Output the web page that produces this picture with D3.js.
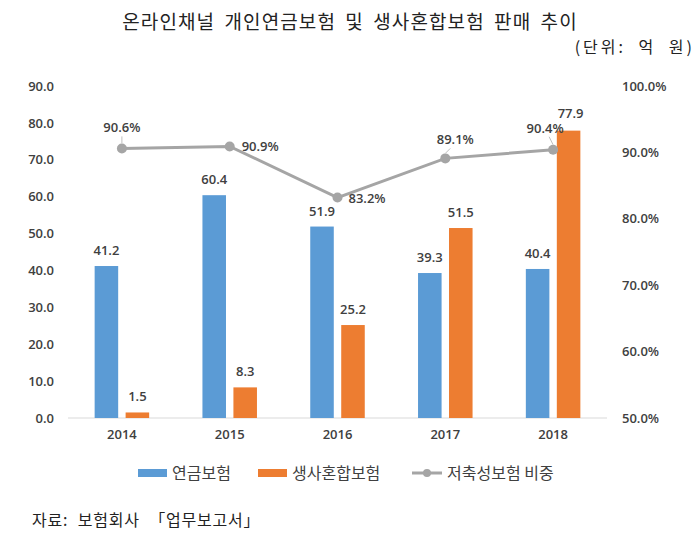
<!DOCTYPE html>
<html>
<head>
<meta charset="utf-8">
<script src="https://cdn.jsdelivr.net/npm/d3@7/dist/d3.min.js"></script>
<style>
  html, body { margin: 0; padding: 0; background: #fff; }
  svg { display: block; }
</style>
</head>
<body>
<svg id="chart" width="700" height="543"></svg>
<script>
// ---- data ----
const years = ["2014", "2015", "2016", "2017", "2018"];
const pension = [41.2, 60.4, 51.9, 39.3, 40.4];        // 연금보험
const mixed = [1.5, 8.3, 25.2, 51.5, 77.9];            // 생사혼합보험
const savingsShare = [90.6, 90.9, 83.2, 89.1, 90.4];   // 저축성보험 비중 (%)
const leftTicks = [0, 10, 20, 30, 40, 50, 60, 70, 80, 90];
const rightTicks = [50, 60, 70, 80, 90, 100];
const seriesNames = ["연금보험", "생사혼합보험", "저축성보험 비중"];
const titleText = "온라인채널 개인연금보험 및 생사혼합보험 판매 추이";
const unitText = "(단위: 억 원)";
const sourceText = "자료: 보험회사 「업무보고서」";

// ---- setup ----
const svg = d3.select("#chart");
const colors = { pension: "#5B9BD5", mixed: "#ED7D31", line: "#A5A5A5" };
const numFont = "'Open Sans', 'Noto Sans CJK KR', sans-serif";
const krFont = "'Noto Sans CJK KR', sans-serif";
const textColor = "#404040";

const plot = { left: 68, right: 607, top: 86, bottom: 418 };

const x0 = d3.scaleBand().domain(years).range([plot.left, plot.right]).padding(0);
const x1 = d3.scaleBand().domain(["pension", "mixed"]).range([0, x0.bandwidth()])
  .paddingInner(0.24).paddingOuter(0.86);
const yL = d3.scaleLinear().domain([0, 90]).range([plot.bottom, plot.top]);
const yR = d3.scaleLinear().domain([50, 100]).range([plot.bottom, plot.top]);

// title
svg.append("text").attr("x", 350).attr("y", 29).attr("text-anchor", "middle")
  .attr("font-family", krFont).attr("font-size", 19).attr("letter-spacing", 1.1)
  .attr("word-spacing", 4).attr("fill", "#222")
  .text(titleText);
svg.append("text").attr("x", 695).attr("y", 53).attr("text-anchor", "end")
  .attr("font-family", krFont).attr("font-size", 16).attr("letter-spacing", 3)
  .attr("word-spacing", 6).attr("fill", "#222")
  .text(unitText);

// left axis
const axL = d3.axisLeft(yL).tickValues(leftTicks).tickFormat(d3.format(".1f")).tickSize(0).tickPadding(14);
const gL = svg.append("g").attr("transform", `translate(${plot.left},0)`).call(axL);
gL.select(".domain").remove();
gL.selectAll("text").attr("font-family", numFont).attr("font-size", 13)
  .attr("font-weight", 600).attr("fill", textColor);

// right axis
const axR = d3.axisRight(yR).tickValues(rightTicks).tickFormat(d => d3.format(".1f")(d) + "%").tickSize(0).tickPadding(15);
const gR = svg.append("g").attr("transform", `translate(${plot.right},0)`).call(axR);
gR.select(".domain").remove();
gR.selectAll("text").attr("font-family", numFont).attr("font-size", 13)
  .attr("font-weight", 600).attr("fill", textColor);

// baseline
svg.append("line").attr("x1", plot.left).attr("x2", plot.right)
  .attr("y1", yL(0)).attr("y2", yL(0)).attr("stroke", "#D9D9D9").attr("stroke-width", 1);

// x axis labels
const axX = d3.axisBottom(x0).tickSize(0).tickPadding(12);
const gX = svg.append("g").attr("transform", `translate(0,${plot.bottom})`).call(axX);
gX.select(".domain").remove();
gX.selectAll("text").attr("font-family", numFont).attr("font-size", 13)
  .attr("font-weight", 600).attr("fill", textColor);

// bars
const rows = years.map((y, i) => ({ year: y, pension: pension[i], mixed: mixed[i] }));
const groups = svg.append("g").selectAll("g").data(rows).join("g")
  .attr("transform", d => `translate(${x0(d.year)},0)`);
["pension", "mixed"].forEach(key => {
  groups.append("rect")
    .attr("x", x1(key)).attr("width", x1.bandwidth())
    .attr("y", d => yL(d[key])).attr("height", d => yL(0) - yL(d[key]))
    .attr("fill", colors[key]);
  groups.append("text")
    .attr("x", d => x1(key) + x1.bandwidth() / 2 + (d.year === "2018" && key === "mixed" ? 2 : 0))
    .attr("y", d => yL(d[key]) - (d.year === "2018" && key === "mixed" ? 13 : 11))
    .attr("text-anchor", "middle")
    .attr("font-family", numFont).attr("font-size", 13).attr("font-weight", 600)
    .attr("fill", textColor)
    .text(d => d3.format(".1f")(d[key]));
});

// line
const pts = years.map((y, i) => ({ x: x0(y) + x0.bandwidth() / 2, y: yR(savingsShare[i]), v: savingsShare[i] }));
svg.append("path").datum(pts)
  .attr("d", d3.line().x(d => d.x).y(d => d.y))
  .attr("fill", "none").attr("stroke", colors.line).attr("stroke-width", 3);
svg.append("g").selectAll("circle").data(pts).join("circle")
  .attr("cx", d => d.x).attr("cy", d => d.y).attr("r", 5).attr("fill", colors.line);

// line labels (label offsets relative to point)
const lblOff = [
  { dx: 0, dy: -16, anchor: "middle", leader: true },
  { dx: 12, dy: 5, anchor: "start", leader: false },
  { dx: 11, dy: 5, anchor: "start", leader: false },
  { dx: 10, dy: -14, anchor: "middle", leader: true },
  { dx: -8, dy: -17, anchor: "middle", leader: true }
];
pts.forEach((p, i) => {
  const o = lblOff[i];
  if (o.leader) {
    svg.append("line").attr("x1", p.x).attr("y1", p.y - 5)
      .attr("x2", p.x + o.dx * 0.5).attr("y2", p.y + o.dy + 4)
      .attr("stroke", "#BFBFBF").attr("stroke-width", 1);
  }
  svg.append("text").attr("x", p.x + o.dx).attr("y", p.y + o.dy)
    .attr("text-anchor", o.anchor)
    .attr("font-family", numFont).attr("font-size", 13).attr("font-weight", 600)
    .attr("fill", textColor)
    .text(d3.format(".1f")(p.v) + "%");
});

// legend
const leg = svg.append("g").attr("transform", "translate(0,473)");
leg.append("rect").attr("x", 138).attr("y", -4).attr("width", 29).attr("height", 8).attr("fill", colors.pension);
leg.append("text").attr("x", 172).attr("y", 6).attr("font-family", krFont).attr("font-size", 16)
  .attr("fill", textColor).text(seriesNames[0]);
leg.append("rect").attr("x", 258).attr("y", -4).attr("width", 29).attr("height", 8).attr("fill", colors.mixed);
leg.append("text").attr("x", 292).attr("y", 6).attr("font-family", krFont).attr("font-size", 16)
  .attr("fill", textColor).text(seriesNames[1]);
leg.append("line").attr("x1", 412).attr("x2", 442).attr("y1", 0).attr("y2", 0)
  .attr("stroke", colors.line).attr("stroke-width", 3);
leg.append("circle").attr("cx", 427).attr("cy", 0).attr("r", 4).attr("fill", colors.line);
leg.append("text").attr("x", 447).attr("y", 6).attr("font-family", krFont).attr("font-size", 16)
  .attr("fill", textColor).text(seriesNames[2]);

// source
svg.append("text").attr("x", 32).attr("y", 526).attr("font-family", krFont).attr("font-size", 16)
  .attr("letter-spacing", 0.8).attr("word-spacing", 5).attr("fill", "#222").text(sourceText);
</script>
</body>
</html>
